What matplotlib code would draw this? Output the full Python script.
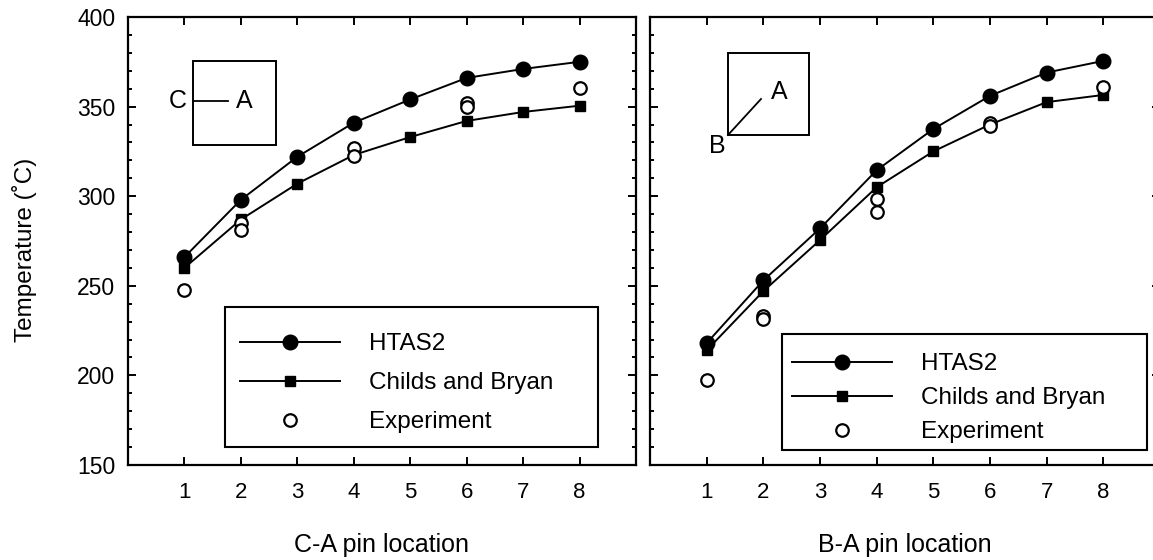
import matplotlib
matplotlib.use("Agg")
import matplotlib.pyplot as plt
from matplotlib.patches import Rectangle
from matplotlib.ticker import MultipleLocator

plt.rcParams['font.family'] = ['Liberation Sans', 'DejaVu Sans']

pins = [1, 2, 3, 4, 5, 6, 7, 8]

# C-A panel
ca_htas2 = [266, 298, 322, 341, 354, 366, 371, 375]
ca_childs = [260, 287, 307, 323, 333, 342, 347, 350.5]
ca_exp_x = [1, 2, 2, 4, 4, 6, 6, 8]
ca_exp_y = [247.5, 285, 281, 327, 322.5, 352, 350, 360.5]

# B-A panel
ba_htas2 = [218, 253, 282, 314.5, 337.5, 356, 369, 375.5]
ba_childs = [214, 247, 275.5, 305, 325, 340, 352.5, 356.5]
ba_exp_x = [1, 2, 2, 4, 4, 6, 6, 8]
ba_exp_y = [197.5, 233, 231.5, 298.5, 291, 341, 339, 361]

labels = ["HTAS2", "Childs and Bryan", "Experiment"]
xlabels = ["C-A pin location", "B-A pin location"]
ylabel = "Temperature (\u02daC)"

W, H = 1153, 560
fig = plt.figure(figsize=(W / 100, H / 100), dpi=100)

def px_ax(x0, x1, y0, y1):
    return [x0 / W, 1 - y1 / H, (x1 - x0) / W, (y1 - y0) / H]

ax1 = fig.add_axes(px_ax(128, 636, 17, 465))
ax2 = fig.add_axes(px_ax(650, 1160, 17, 465))

LW = 1.4
def draw(ax, htas, childs, ex, ey):
    l1, = ax.plot(pins, htas, '-o', color='black', lw=LW, ms=10.5, mfc='black', mec='black', zorder=3)
    l2, = ax.plot(pins, childs, '-s', color='black', lw=LW, ms=7.5, mfc='black', mec='black', zorder=3)
    l3, = ax.plot(ex, ey, 'o', ls='none', ms=9, mfc='white', mec='black', mew=1.6, zorder=4)
    return [l1, l2, l3]

for ax in (ax1, ax2):
    ax.set_xlim(0, 9)
    ax.set_ylim(150, 400)
    ax.set_xticks(pins)
    ax.yaxis.set_major_locator(MultipleLocator(50))
    ax.yaxis.set_minor_locator(MultipleLocator(10))
    ax.tick_params(axis='both', which='both', direction='in', top=True, right=True, width=1.4)
    ax.tick_params(axis='x', which='major', length=6, labelsize=16, pad=12)
    ax.tick_params(axis='y', which='major', length=5.5, labelsize=16.5, pad=9)
    ax.tick_params(axis='y', which='minor', length=3)
    for s in ax.spines.values():
        s.set_linewidth(1.6)

h1 = draw(ax1, ca_htas2, ca_childs, ca_exp_x, ca_exp_y)
h2 = draw(ax2, ba_htas2, ba_childs, ba_exp_x, ba_exp_y)
ax2.tick_params(axis='y', labelleft=False)

ax1.set_xlabel(xlabels[0], fontsize=18, labelpad=22)
ax2.set_xlabel(xlabels[1], fontsize=18, labelpad=22)
fig.text(25 / W, 1 - 250 / H, ylabel, rotation=90, fontsize=17.5, ha='center', va='center')

# inset diagrams
def frac(ax_px, x, y):
    x0, x1, y0, y1 = ax_px
    return (x - x0) / (x1 - x0), (y1 - y) / (y1 - y0)

A1 = (128, 636, 17, 465)
A2 = (650, 1160, 17, 465)

bx0, by0 = frac(A1, 193, 145)
bx1, by1 = frac(A1, 276, 61)
ax1.add_patch(Rectangle((bx0, by0), bx1 - bx0, by1 - by0, transform=ax1.transAxes,
                        fill=False, lw=1.4, ec='black'))
lx0, ly = frac(A1, 193, 101)
lx1, _ = frac(A1, 228, 101)
ax1.plot([lx0, lx1], [ly, ly], color='black', lw=1.3, transform=ax1.transAxes)
cx, _ = frac(A1, 178, 101)
ax1.text(cx, ly, "C", transform=ax1.transAxes, ha='center', va='center', fontsize=18)
axx, _ = frac(A1, 244, 101)
ax1.text(axx, ly, "A", transform=ax1.transAxes, ha='center', va='center', fontsize=18)

bx0, by0 = frac(A2, 728, 135)
bx1, by1 = frac(A2, 809, 53)
ax2.add_patch(Rectangle((bx0, by0), bx1 - bx0, by1 - by0, transform=ax2.transAxes,
                        fill=False, lw=1.4, ec='black'))
dx1, dy1 = frac(A2, 761, 99)
ax2.plot([bx0, dx1], [by0, dy1], color='black', lw=1.3, transform=ax2.transAxes)
tx, ty = frac(A2, 779, 92)
ax2.text(tx, ty, "A", transform=ax2.transAxes, ha='center', va='center', fontsize=18)
tx, ty = frac(A2, 717, 146)
ax2.text(tx, ty, "B", transform=ax2.transAxes, ha='center', va='center', fontsize=18)

# legends: frame rectangle + frameless legend
def legend(ax, A, handles, box, anchor, spacing):
    x0, y0 = frac(A, box[0], box[3])
    x1, y1 = frac(A, box[2], box[1])
    ax.add_patch(Rectangle((x0, y0), x1 - x0, y1 - y0, transform=ax.transAxes,
                           fill=False, lw=1.5, ec='black', zorder=5))
    ax_, ay_ = frac(A, anchor[0], anchor[1])
    leg = ax.legend(handles, labels, loc='upper left', bbox_to_anchor=(ax_, ay_),
                    frameon=False, fontsize=17.5, handlelength=4.1, handletextpad=1.2,
                    labelspacing=spacing, borderpad=0, borderaxespad=0, numpoints=1)
    return leg

legend(ax1, A1, h1, (225, 307, 598, 447), (240, 333), 0.7)
legend(ax2, A2, h2, (782, 334, 1147, 450), (792, 353), 0.5)

fig.savefig("out.png", dpi=100)
